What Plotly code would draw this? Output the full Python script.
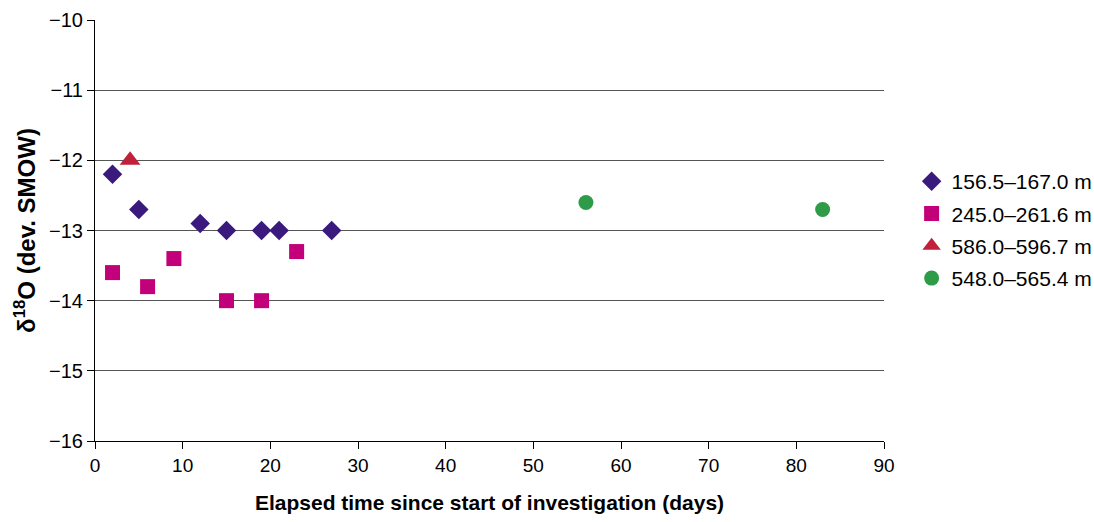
import plotly.graph_objects as go

s1_x = [2, 5, 12, 15, 19, 21, 27]
s1_y = [-12.2, -12.7, -12.9, -13.0, -13.0, -13.0, -13.0]
s2_x = [2, 6, 9, 15, 19, 23]
s2_y = [-13.6, -13.8, -13.4, -14.0, -14.0, -13.3]
s3_x = [4]
s3_y = [-12.0]
s4_x = [56, 83]
s4_y = [-12.6, -12.7]
names = ["156.5–167.0 m", "245.0–261.6 m", "586.0–596.7 m", "548.0–565.4 m"]
x_ticks = [0, 10, 20, 30, 40, 50, 60, 70, 80, 90]
y_ticks = [-16, -15, -14, -13, -12, -11, -10]

fig = go.Figure()
fig.add_trace(go.Scatter(x=s1_x, y=s1_y, mode="markers", name=names[0], legendgroup="a",
                         marker=dict(symbol="diamond", size=15, color="#3B1A7E")))
fig.add_trace(go.Scatter(x=s2_x, y=s2_y, mode="markers", name=names[1], legendgroup="b",
                         marker=dict(symbol="square", size=15, color="#C2007A")))
fig.add_trace(go.Scatter(x=s3_x, y=s3_y, mode="markers", name=names[2], legendgroup="c",
                         marker=dict(symbol="triangle-up", size=18, color="#C0203A")))
fig.add_trace(go.Scatter(x=s4_x, y=s4_y, mode="markers", name=names[3], legendgroup="d",
                         marker=dict(symbol="circle", size=15, color="#2E9B48")))

font = "Liberation Sans, Arial, sans-serif"
fig.update_layout(
    width=1094, height=522,
    margin=dict(l=95, r=210, t=20, b=81, autoexpand=False),
    plot_bgcolor="white", paper_bgcolor="white",
    font=dict(family=font, size=20, color="black"),
    legend=dict(x=1.035, y=0.665, xanchor="left", yanchor="top",
                font=dict(size=21), tracegroupgap=2),
    xaxis=dict(range=[0, 90], tickvals=x_ticks, showgrid=False, zeroline=False,
               showline=True, linecolor="black", linewidth=1,
               ticks="outside", ticklen=7, tickcolor="black", tickfont=dict(size=19),
               title=dict(text="<b>Elapsed time since start of investigation (days)</b>",
                          font=dict(size=21), standoff=20)),
    yaxis=dict(range=[-16, -10], tickvals=y_ticks, showgrid=True, gridcolor="#555555",
               gridwidth=1, zeroline=False, showline=True, linecolor="black", linewidth=1,
               ticks="outside", ticklen=7, tickcolor="black", tickfont=dict(size=20),
               title=dict(text="<b>δ<sup>18</sup>O (dev. SMOW)</b>", font=dict(size=24), standoff=6)),
)
fig.write_html("out.html")
